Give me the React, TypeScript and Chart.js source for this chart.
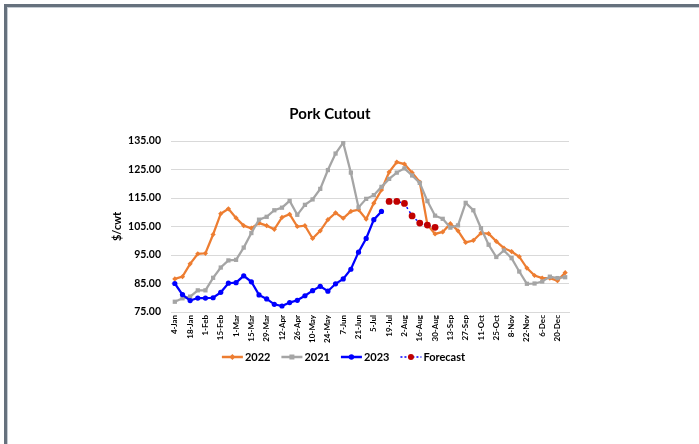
import React, { useEffect, useRef } from "react";
import { Chart, registerables } from "chart.js";

Chart.register(...registerables);

const weeks = [
  "4-Jan", "11-Jan", "18-Jan", "25-Jan", "1-Feb", "8-Feb", "15-Feb", "22-Feb",
  "1-Mar", "8-Mar", "15-Mar", "22-Mar", "29-Mar", "5-Apr", "12-Apr", "19-Apr",
  "26-Apr", "3-May", "10-May", "17-May", "24-May", "31-May", "7-Jun", "14-Jun",
  "21-Jun", "28-Jun", "5-Jul", "12-Jul", "19-Jul", "26-Jul", "2-Aug", "9-Aug",
  "16-Aug", "23-Aug", "30-Aug", "6-Sep", "13-Sep", "20-Sep", "27-Sep", "4-Oct",
  "11-Oct", "18-Oct", "25-Oct", "1-Nov", "8-Nov", "15-Nov", "22-Nov", "29-Nov",
  "6-Dec", "13-Dec", "20-Dec", "27-Dec",
];

const pork2022 = [
  86.6, 87.4, 91.9, 95.4, 95.6, 102.2, 109.5, 111.2, 108.0, 105.3,
  104.4, 106.2, 105.3, 104.0, 108.2, 109.3, 105.0, 105.3, 100.8, 103.5,
  107.4, 109.8, 107.9, 110.3, 110.9, 107.6, 113.2, 117.8, 124.1, 127.6,
  126.9, 123.9, 120.6, 105.6, 102.4, 103.1, 106.0, 103.5, 99.4, 100.1,
  102.7, 102.5, 99.8, 97.4, 96.2, 94.4, 90.4, 87.8, 86.9, 86.9,
  86.0, 88.8,
];

const pork2021 = [
  78.6, 79.8, 80.4, 82.6, 82.6, 87.0, 90.6, 93.1, 93.3, 97.6,
  102.7, 107.4, 108.4, 110.7, 111.6, 114.0, 109.1, 112.6, 114.5, 118.2,
  124.8, 130.6, 134.4, 123.9, 111.7, 114.7, 116.0, 118.9, 121.7, 123.9,
  125.4, 122.9, 120.3, 113.9, 108.8, 107.7, 104.6, 105.4, 113.3, 110.7,
  104.4, 98.6, 94.3, 96.6, 93.9, 89.2, 84.9, 85.0, 85.7, 87.4,
  86.9, 87.2,
];

const pork2023 = [
  85.0, 81.1, 79.0, 79.9, 79.9, 80.0, 81.9, 85.1, 85.3, 87.7,
  85.6, 81.0, 79.6, 77.7, 77.1, 78.3, 79.1, 80.7, 82.5, 84.0,
  82.3, 84.9, 86.6, 90.0, 96.0, 100.8, 107.4, 110.3,
];

const forecastStart = 28;
const forecast = [113.8, 113.8, 113.1, 108.7, 106.2, 105.5, 104.7];

const yTicks = [75, 85, 95, 105, 115, 125, 135];

const FONT = "Lato, 'DejaVu Sans', sans-serif";

const COLORS = {
  y2022: "#ED7D31",
  y2021: "#A5A5A5",
  y2023: "#0000FF",
  forecastLine: "#0000FF",
  forecastPt: "#C00000",
};

const legendItems = [
  { text: "2022", color: COLORS.y2022, marker: "diamond" },
  { text: "2021", color: COLORS.y2021, marker: "square" },
  { text: "2023", color: COLORS.y2023, marker: "circle" },
  { text: "Forecast", color: COLORS.forecastLine, marker: "forecast" },
];

const decorPlugin = {
  id: "decor",
  beforeDraw(chart: any) {
    const ctx = chart.ctx as CanvasRenderingContext2D;
    ctx.save();
    ctx.fillStyle = "#ffffff";
    ctx.fillRect(0, 0, chart.width, chart.height);
    ctx.fillStyle = "#66717d";
    ctx.fillRect(4, 4, chart.width - 4, 3);
    ctx.fillRect(4, 4, 3, chart.height - 4);
    ctx.fillStyle = "#c5ccd3";
    ctx.fillRect(7, 7, chart.width - 7, 1);
    ctx.fillRect(7, 7, 1, chart.height - 7);
    ctx.restore();
  },
  afterDraw(chart: any) {
    const ctx = chart.ctx as CanvasRenderingContext2D;
    ctx.save();
    // Title
    ctx.fillStyle = "#000";
    ctx.font = `bold 15px ${FONT}`;
    ctx.textAlign = "center";
    ctx.textBaseline = "middle";
    ctx.fillText("Pork Cutout", 330, 114);

    // Legend
    ctx.font = `bold 11px ${FONT}`;
    ctx.textAlign = "left";
    const symW = 21;
    const gapSym = 2;
    const gapItem = 11;
    const widths = legendItems.map((it) => symW + gapSym + ctx.measureText(it.text).width);
    const total = widths.reduce((a, b) => a + b, 0) + gapItem * (legendItems.length - 1);
    let x = 343.5 - total / 2;
    const y = 357;
    legendItems.forEach((it, i) => {
      const cx = x + symW / 2;
      if (it.marker === "forecast") {
        ctx.strokeStyle = it.color;
        ctx.lineWidth = 1.5;
        ctx.setLineDash([2, 2]);
        ctx.beginPath();
        ctx.moveTo(x, y);
        ctx.lineTo(x + symW, y);
        ctx.stroke();
        ctx.setLineDash([]);
        ctx.fillStyle = COLORS.forecastPt;
        ctx.beginPath();
        ctx.arc(cx, y, 3, 0, Math.PI * 2);
        ctx.fill();
      } else {
        ctx.strokeStyle = it.color;
        ctx.lineWidth = 2.5;
        ctx.beginPath();
        ctx.moveTo(x, y);
        ctx.lineTo(x + symW, y);
        ctx.stroke();
        ctx.fillStyle = it.color;
        if (it.marker === "diamond") {
          ctx.beginPath();
          ctx.moveTo(cx, y - 3);
          ctx.lineTo(cx + 3, y);
          ctx.lineTo(cx, y + 3);
          ctx.lineTo(cx - 3, y);
          ctx.closePath();
          ctx.fill();
        } else if (it.marker === "square") {
          ctx.fillRect(cx - 2.5, y - 2.5, 5, 5);
        } else {
          ctx.beginPath();
          ctx.arc(cx, y, 2.7, 0, Math.PI * 2);
          ctx.fill();
        }
      }
      ctx.fillStyle = "#000";
      ctx.textBaseline = "middle";
      ctx.fillText(it.text, x + symW + gapSym, y + 0.5);
      x += widths[i] + gapItem;
    });
    ctx.restore();
  },
};

export default function App() {
  const canvasRef = useRef<HTMLCanvasElement | null>(null);

  useEffect(() => {
    const canvas = canvasRef.current;
    if (!canvas) return;

    const series2023 = weeks.map((_, i) => (i < pork2023.length ? pork2023[i] : null));
    const seriesForecast = weeks.map((_, i) =>
      i >= forecastStart && i < forecastStart + forecast.length ? forecast[i - forecastStart] : null
    );

    const chart = new Chart(canvas, {
      type: "line",
      data: {
        labels: weeks,
        datasets: [
          {
            label: "2022",
            data: pork2022,
            borderColor: COLORS.y2022,
            backgroundColor: COLORS.y2022,
            borderWidth: 2.25,
            pointStyle: "rectRot",
            pointRadius: 2.6,
            pointBorderWidth: 0,
            tension: 0,
            order: 4,
          },
          {
            label: "2021",
            data: pork2021,
            borderColor: COLORS.y2021,
            backgroundColor: COLORS.y2021,
            borderWidth: 2.25,
            pointStyle: "rect",
            pointRadius: 3,
            pointBorderWidth: 0,
            tension: 0,
            order: 3,
          },
          {
            label: "2023",
            data: series2023,
            borderColor: COLORS.y2023,
            backgroundColor: COLORS.y2023,
            borderWidth: 2.25,
            pointStyle: "circle",
            pointRadius: 2.6,
            pointBorderWidth: 0,
            tension: 0,
            order: 2,
          },
          {
            label: "Forecast",
            data: seriesForecast,
            borderColor: COLORS.forecastLine,
            backgroundColor: COLORS.forecastPt,
            pointBackgroundColor: COLORS.forecastPt,
            pointBorderColor: COLORS.forecastPt,
            borderWidth: 1.5,
            borderDash: [2, 3],
            pointStyle: "circle",
            pointRadius: 3.4,
            pointBorderWidth: 0,
            tension: 0,
            order: 1,
          },
        ],
      },
      options: {
        responsive: false,
        animation: false,
        devicePixelRatio: 1,
        layout: {
          padding: { left: 107, right: 130, top: 141, bottom: 92 },
        },
        plugins: {
          legend: { display: false },
          title: { display: false },
          tooltip: { enabled: false },
        },
        scales: {
          x: {
            type: "category",
            offset: true,
            afterFit: (scale: any) => {
              scale.height = 40;
            },
            grid: { display: false, drawTicks: false },
            border: { display: true, color: "#d9d9d9", width: 1 },
            ticks: {
              autoSkip: false,
              maxRotation: 90,
              minRotation: 90,
              padding: 3,
              color: "#000",
              font: { family: FONT, size: 8, weight: "bold" },
              callback: (_v: any, i: number) => (i % 2 === 0 ? weeks[i] : ""),
            },
          },
          y: {
            min: 75,
            max: 135,
            afterFit: (scale: any) => {
              scale.width = 64;
            },
            afterBuildTicks: (scale: any) => {
              scale.ticks = yTicks.map((v) => ({ value: v }));
            },
            grid: { color: "#d9d9d9", lineWidth: 1, drawTicks: false },
            border: { display: false },
            title: {
              display: true,
              text: "$/cwt",
              color: "#000",
              font: { family: FONT, size: 11, weight: "bold" },
              padding: { top: 4, bottom: 0 },
            },
            ticks: {
              padding: 10,
              color: "#000",
              font: { family: FONT, size: 10.5, weight: "bold" },
              callback: (v: any) => Number(v).toFixed(2),
            },
          },
        },
      },
      plugins: [decorPlugin],
    });

    return () => {
      chart.destroy();
    };
  }, []);

  return (
    <div style={{ position: "fixed", left: 0, top: 0, width: 699, height: 444, background: "#fff" }}>
      <canvas ref={canvasRef} width={699} height={444} style={{ display: "block" }} />
    </div>
  );
}
